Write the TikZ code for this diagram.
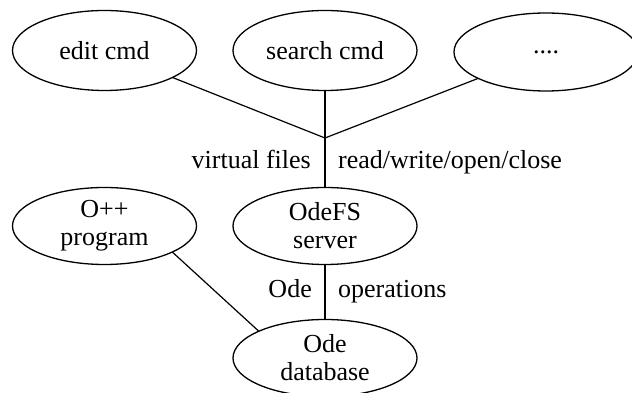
\documentclass[tikz,border=0pt]{standalone}
\usepackage{fontspec}
\setmainfont{Liberation Serif}
\usetikzlibrary{shapes.geometric}
\begin{document}
\begin{tikzpicture}[x=1pt,y=1pt,
  every node/.style={font=\fontsize{26}{28}\selectfont},
  ell/.style={draw,ellipse,line width=1.3pt,inner sep=0pt,outer sep=0pt,
              minimum width=184pt,minimum height=80pt,align=center},
  conn/.style={line width=1.2pt},
  lbl/.style={inner sep=0pt}]
\useasboundingbox (0,0) rectangle (632,393);
\node[ell] (edit) at (104.5,342.5) {edit cmd};
\node[ell] (search) at (325,342.5) {search cmd};
\node[ell,minimum height=78pt] (dots) at (546,341) {....};
\coordinate (j) at (325,255);
\node[ell,minimum height=77pt] (prog) at (104.5,167) {O++\\program};
\node[ell,minimum height=77pt] (fs) at (325,167) {OdeFS\\server};
\node[ell,minimum height=77pt] (db) at (325,35) {Ode\\database};
\draw[conn] (edit) -- (j);
\draw[conn] (search.south) -- (j);
\draw[conn] (dots) -- (j);
\draw[conn] (j) -- (fs.north);
\draw[conn] (fs.south) -- (db.north);
\draw[conn] (prog.-21) -- (db.158);
\node[lbl,anchor=base east] (vf) at (311,224) {virtual files};
\node[lbl,anchor=base west] (rw) at (338,224) {read/write/open/close};
\node[lbl,anchor=base east] (ode) at (312,95) {Ode};
\node[lbl,anchor=base west] (ops) at (338,95) {operations};
\end{tikzpicture}
\end{document}
